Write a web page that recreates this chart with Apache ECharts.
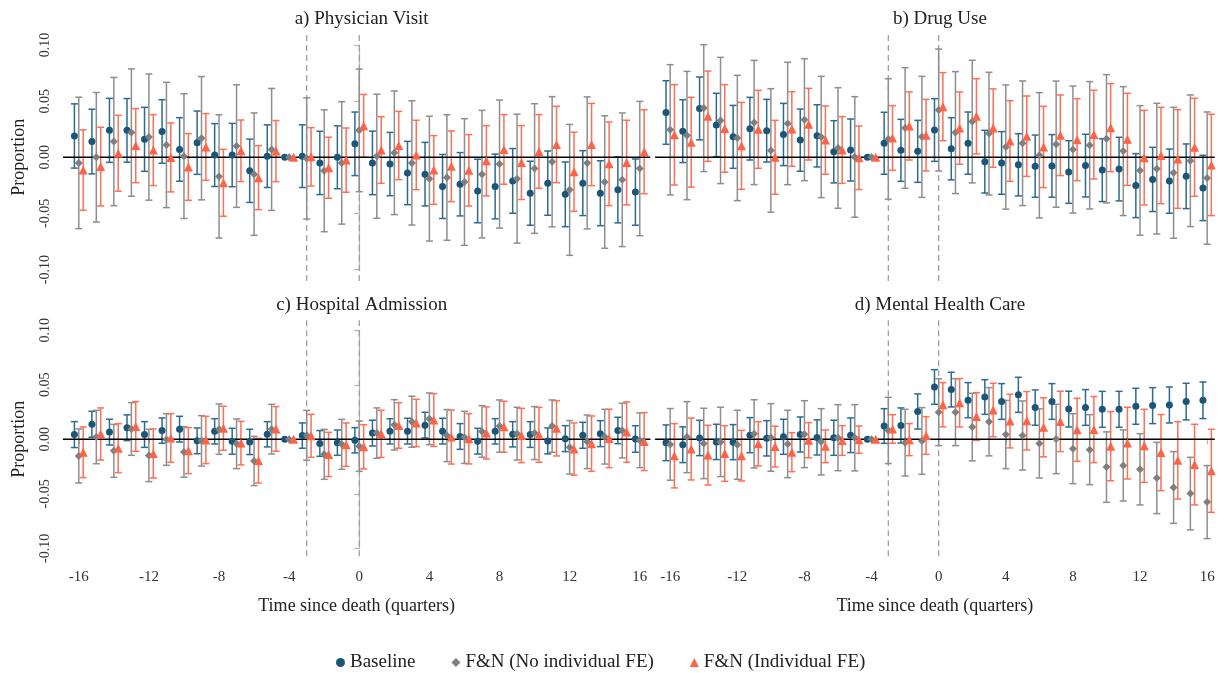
<!DOCTYPE html>
<html>
<head>
<meta charset="utf-8">
<script src="https://cdn.jsdelivr.net/npm/echarts@6/dist/echarts.min.js"></script>
<style>
  html, body { margin: 0; padding: 0; background: #fff; }
  #chart { width: 1225px; height: 673px; }
</style>
</head>
<body>
<div id="chart"></div>
<script>
// event-study estimates, quarters -16..16 (reference quarter -4 fixed at 0)
const quarters = [-16, -15, -14, -13, -12, -11, -10, -9, -8, -7, -6, -5, -4, -3, -2, -1, 0,
  1, 2, 3, 4, 5, 6, 7, 8, 9, 10, 11, 12, 13, 14, 15, 16];
const xTicks = [-16, -12, -8, -4, 0, 4, 8, 12, 16];
const eventLines = [-3, 0];
const panelTitles = ['a) Physician Visit', 'b) Drug Use', 'c) Hospital Admission', 'd) Mental Health Care'];
const seriesNames = ['Baseline', 'F&N (No individual FE)', 'F&N (Individual FE)'];

// a) physician visit
const visitBase = [0.019, 0.014, 0.024, 0.024, 0.016, 0.023, 0.007, 0.013, 0.002, 0.002, -0.012, 0.001, 0,
  0.001, -0.005, 0.000, 0.012, -0.005, -0.006, -0.014, -0.015, -0.026, -0.024, -0.030, -0.026, -0.021,
  -0.032, -0.023, -0.033, -0.023, -0.032, -0.029, -0.031];
const visitBaseCI = [0.0286, 0.0288, 0.0285, 0.0283, 0.0285, 0.0283, 0.0283, 0.0282, 0.028, 0.0282, 0.0282, 0.0279, 0,
  0.0279, 0.0282, 0.028, 0.0283, 0.0283, 0.0282, 0.0282, 0.0283, 0.0285, 0.0282, 0.0283, 0.0288, 0.0288,
  0.0285, 0.0286, 0.0288, 0.0289, 0.0289, 0.0294, 0.0295];
const visitNoFE = [-0.005, 0.000, 0.014, 0.022, 0.018, 0.011, 0.001, 0.017, -0.017, 0.010, -0.015, 0.007, 0,
  -0.001, -0.012, -0.005, 0.024, 0.001, 0.004, -0.005, -0.019, -0.018, -0.022, -0.015, -0.006, -0.019,
  -0.010, -0.004, -0.029, -0.005, -0.022, -0.020, -0.010];
const visitNoFECI = [0.0585, 0.0577, 0.0571, 0.0567, 0.0562, 0.0558, 0.0555, 0.0549, 0.0549, 0.0546, 0.0545, 0.0543, 0,
  0.054, 0.0543, 0.0545, 0.0546, 0.0552, 0.055, 0.0553, 0.0556, 0.0559, 0.0564, 0.0568, 0.057, 0.0574,
  0.0577, 0.058, 0.0583, 0.0588, 0.059, 0.0595, 0.0598];
const visitFE = [-0.0114, -0.0083, 0.0036, 0.0104, 0.0064, -0.0001, -0.0086, 0.0092, -0.0227, 0.0058, -0.0181, 0.0055, 0,
  0.0004, -0.0093, -0.0025, 0.028, 0.0065, 0.0105, 0.0021, -0.0113, -0.008, -0.0116, -0.0031, 0.007, -0.0047,
  0.0052, 0.0114, -0.0129, 0.0114, -0.0058, -0.0047, 0.005];
const visitFECI = [0.0358, 0.035, 0.0338, 0.033, 0.0316, 0.0307, 0.0297, 0.0297, 0.0298, 0.0274, 0.0285, 0.0272, 0,
  0.026, 0.0272, 0.0286, 0.028, 0.0297, 0.0304, 0.0309, 0.0306, 0.0315, 0.0318, 0.0313, 0.031, 0.0329,
  0.0328, 0.034, 0.0352, 0.0366, 0.0372, 0.0377, 0.0374];

// b) drug use
const drugBase = [0.0399, 0.0233, 0.0435, 0.0288, 0.0182, 0.0255, 0.0237, 0.0203, 0.0153, 0.0191, 0.0049, 0.0065, 0,
  0.0125, 0.0062, 0.0053, 0.0243, 0.0076, 0.0126, -0.0039, -0.005, -0.0067, -0.0079, -0.0077, -0.0131, -0.0074,
  -0.0114, -0.0105, -0.0252, -0.0197, -0.0212, -0.0169, -0.0273];
const drugBaseCI = [0.0283, 0.028, 0.028, 0.0282, 0.028, 0.0279, 0.0279, 0.0277, 0.0277, 0.0277, 0.0277, 0.0276, 0,
  0.0276, 0.0276, 0.0276, 0.0279, 0.0277, 0.0277, 0.0279, 0.0279, 0.0277, 0.0277, 0.0279, 0.0279, 0.0279,
  0.028, 0.0283, 0.0285, 0.0286, 0.0286, 0.0288, 0.0291];
const drugNoFE = [0.0245, 0.0194, 0.0438, 0.0328, 0.0172, 0.031, 0.0061, 0.0301, 0.0335, 0.0181, 0.0083, 0.0003, 0,
  0.0163, 0.0261, 0.0182, 0.0421, 0.022, 0.0318, 0.0211, 0.0091, 0.0125, 0.0018, 0.0117, 0.0069, 0.0107,
  0.0165, 0.0055, -0.0117, -0.0101, -0.0138, -0.0031, -0.0185];
const drugNoFECI = [0.058, 0.0571, 0.0565, 0.0562, 0.0558, 0.0553, 0.055, 0.0545, 0.0543, 0.054, 0.0537, 0.0537, 0,
  0.0537, 0.0537, 0.0539, 0.0543, 0.0543, 0.0546, 0.0546, 0.0553, 0.0555, 0.0558, 0.0562, 0.0565, 0.0567,
  0.0571, 0.0574, 0.0577, 0.0582, 0.0583, 0.0586, 0.0589];
const drugFE = [0.02, 0.0134, 0.0366, 0.0257, 0.0102, 0.0249, 0.0, 0.0252, 0.0295, 0.0153, 0.0065, -0.0004, 0,
  0.0172, 0.0279, 0.0197, 0.0451, 0.026, 0.0365, 0.026, 0.0145, 0.0188, 0.0092, 0.0196, 0.0157, 0.0202,
  0.0264, 0.016, -0.0003, 0.0016, -0.0015, 0.0089, -0.0068];
const drugFECI = [0.0447, 0.04, 0.0402, 0.039, 0.0387, 0.0347, 0.0329, 0.0332, 0.0319, 0.0304, 0.0297, 0.0283, 0,
  0.0288, 0.0303, 0.0319, 0.0303, 0.0322, 0.0335, 0.0349, 0.0359, 0.0358, 0.0362, 0.0359, 0.0365, 0.0395,
  0.0392, 0.041, 0.0421, 0.0429, 0.0439, 0.0436, 0.0451];

// c) hospital admission
const hospBase = [0.0043, 0.0138, 0.0066, 0.0106, 0.0044, 0.008, 0.0093, -0.0014, 0.0073, -0.0018, -0.0024, 0.0046, 0,
  0.0034, -0.0038, -0.0031, -0.0009, 0.0057, 0.0073, 0.0075, 0.013, 0.0075, 0.0026, -0.0017, 0.0073, 0.0046,
  0.0044, -0.0015, 0.0006, 0.0037, 0.0052, 0.0081, 0.0003];
const hospBaseCI = [0.0119, 0.0119, 0.0118, 0.0118, 0.0118, 0.0116, 0.0118, 0.0118, 0.0116, 0.0119, 0.0116, 0.0116, 0,
  0.0116, 0.0118, 0.0116, 0.0116, 0.0118, 0.0116, 0.0118, 0.0118, 0.0118, 0.0118, 0.0118, 0.0116, 0.0116,
  0.0118, 0.0119, 0.0119, 0.0119, 0.0119, 0.0121, 0.0122];
const hospNoFE = [-0.0153, 0.0021, -0.0106, 0.0095, -0.0148, -0.0002, -0.0116, -0.0014, 0.0093, -0.0041, -0.0199, 0.0093, 0,
  0.0037, -0.0138, -0.0046, -0.0063, 0.0057, 0.0133, 0.0161, 0.0188, 0.0034, 0.0018, 0.0072, 0.0121, 0.0052,
  0.0057, 0.0121, -0.0073, -0.0023, 0.0024, 0.008, -0.0009];
const hospNoFECI = [0.0248, 0.0245, 0.0243, 0.0242, 0.024, 0.0237, 0.0232, 0.0231, 0.0231, 0.0228, 0.0226, 0.0228, 0,
  0.0229, 0.0229, 0.0229, 0.0231, 0.0231, 0.0231, 0.0234, 0.0237, 0.0239, 0.0239, 0.0237, 0.024, 0.0242,
  0.0243, 0.024, 0.0245, 0.0246, 0.0251, 0.0251, 0.0251];
const hospFE = [-0.0119, 0.0049, -0.0081, 0.0118, -0.013, 0.0012, -0.0104, -0.0006, 0.0101, -0.0035, -0.0196, 0.0095, 0,
  0.0032, -0.0139, -0.0049, -0.0069, 0.005, 0.0127, 0.015, 0.0177, 0.0021, 0.0005, 0.0058, 0.0115, 0.0035,
  0.0041, 0.0101, -0.009, -0.004, 0.0008, 0.0066, -0.0021];
const hospFECI = [0.0232, 0.0239, 0.0225, 0.0228, 0.0225, 0.0223, 0.0211, 0.0217, 0.0202, 0.02, 0.0205, 0.0205, 0,
  0.0197, 0.0203, 0.0199, 0.0203, 0.0216, 0.0209, 0.0217, 0.0242, 0.0248, 0.0231, 0.0239, 0.0234, 0.0249,
  0.0252, 0.0254, 0.024, 0.0254, 0.0268, 0.0277, 0.0266];

// d) mental health care
const mentalBase = [-0.0032, -0.005, 0.0012, -0.0024, -0.0026, 0.0038, 0.0009, 0.0023, 0.0044, 0.0017, 0.0014, 0.0037, 0,
  0.0122, 0.0127, 0.0255, 0.048, 0.0456, 0.0359, 0.0388, 0.0347, 0.0408, 0.0291, 0.0347, 0.0277, 0.0292,
  0.0275, 0.0275, 0.0303, 0.0309, 0.0315, 0.0346, 0.0358];
const mentalBaseCI = [0.0164, 0.0164, 0.0162, 0.0162, 0.0161, 0.0161, 0.0162, 0.0161, 0.0161, 0.0161, 0.0161, 0.0159, 0,
  0.0159, 0.0161, 0.0161, 0.0159, 0.0159, 0.0161, 0.0159, 0.0164, 0.0161, 0.0162, 0.0164, 0.0164, 0.0164,
  0.0165, 0.0165, 0.0165, 0.0165, 0.0165, 0.0168, 0.0168];
const mentalNoFE = [-0.0047, 0.002, -0.0038, -0.0024, -0.005, 0.005, 0.0017, -0.0043, 0.0047, -0.0023, 0.0015, 0.0014, 0,
  0.0081, -0.0031, -0.0015, 0.0249, 0.0249, 0.0112, 0.0161, 0.0044, 0.0035, -0.0038, 0.0003, -0.0086, -0.0095,
  -0.0255, -0.024, -0.0275, -0.0355, -0.0442, -0.0498, -0.0576];
const mentalNoFECI = [0.0329, 0.0326, 0.0323, 0.0318, 0.0317, 0.0313, 0.031, 0.0309, 0.0307, 0.0304, 0.0303, 0.0304, 0,
  0.0304, 0.0306, 0.0306, 0.0307, 0.0307, 0.031, 0.0313, 0.0313, 0.0317, 0.0317, 0.0318, 0.0321, 0.0321,
  0.0323, 0.0326, 0.0327, 0.0327, 0.0329, 0.0333, 0.0335];
const mentalFE = [-0.0151, -0.0089, -0.0145, -0.013, -0.015, -0.0041, -0.0067, -0.0118, -0.0008, -0.0064, -0.0011, -0.0003, 0,
  0.0095, -0.0003, 0.0035, 0.0317, 0.0335, 0.0209, 0.0269, 0.0167, 0.017, 0.011, 0.0164, 0.0087, 0.0089,
  -0.0063, -0.0035, -0.006, -0.0122, -0.0193, -0.0232, -0.0289];
const mentalFECI = [0.0295, 0.0284, 0.0274, 0.0255, 0.0232, 0.0203, 0.0187, 0.0179, 0.0161, 0.015, 0.0136, 0.0125, 0,
  0.0131, 0.0147, 0.0173, 0.0203, 0.0222, 0.0219, 0.0245, 0.0246, 0.0268, 0.0271, 0.0277, 0.0289, 0.0303,
  0.0317, 0.0329, 0.0335, 0.0349, 0.0355, 0.037, 0.0381];

const panels = [
  { est: [visitBase, visitNoFE, visitFE], ci: [visitBaseCI, visitNoFECI, visitFECI] },
  { est: [drugBase, drugNoFE, drugFE], ci: [drugBaseCI, drugNoFECI, drugFECI] },
  { est: [hospBase, hospNoFE, hospFE], ci: [hospBaseCI, hospNoFECI, hospFECI] },
  { est: [mentalBase, mentalNoFE, mentalFE], ci: [mentalBaseCI, mentalNoFECI, mentalFECI] }
];

// layout
const layout = [
  { grid: { left: 63, top: 45, width: 587.3, height: 224.6 }, xMin: -16.9, xMax: 16.6, bottomAxis: false, leftAxis: true },
  { grid: { left: 655.1, top: 45, width: 559.6, height: 224.6 }, xMin: -16.9, xMax: 16.45, bottomAxis: false, leftAxis: false },
  { grid: { left: 63, top: 330.3, width: 587.3, height: 218 }, xMin: -16.9, xMax: 16.6, bottomAxis: true, leftAxis: true },
  { grid: { left: 655.1, top: 330.3, width: 559.6, height: 218 }, xMin: -16.9, xMax: 16.45, bottomAxis: true, leftAxis: false }
];
const offsets = [-0.25, 0, 0.25];
const markerColors = ['#1b5679', '#7f7f7f', '#ff6347'];
const barColors = ['#2d6a90', '#8e8e8e', '#ff6e55'];
const symbols = ['circle', 'diamond', 'triangle'];
const symbolSizes = [7, 8, 9];
const FONT = 'Liberation Serif';
const axisGrey = '#b4b4b4';

function errorBar(color) {
  return function (params, api) {
    const x = api.value(0), lo = api.value(1), hi = api.value(2);
    if (lo === hi) return null;
    const top = api.coord([x, hi]);
    const bot = api.coord([x, lo]);
    const cap = 3.5;
    const style = { stroke: color, lineWidth: 1.5 };
    return {
      type: 'group',
      children: [
        { type: 'line', shape: { x1: top[0], y1: top[1], x2: bot[0], y2: bot[1] }, style },
        { type: 'line', shape: { x1: top[0] - cap, y1: top[1], x2: top[0] + cap, y2: top[1] }, style },
        { type: 'line', shape: { x1: bot[0] - cap, y1: bot[1], x2: bot[0] + cap, y2: bot[1] }, style }
      ]
    };
  };
}

function eventLine(params, api) {
  const cs = params.coordSys;
  const x = api.coord([api.value(0), 0])[0];
  return {
    type: 'line',
    shape: { x1: x, y1: cs.y - 10, x2: x, y2: cs.y + cs.height + 12 },
    style: { stroke: '#a0a0a0', lineWidth: 1.3, lineDash: [6, 4] }
  };
}

function zeroLine(params, api) {
  const cs = params.coordSys;
  const y = api.coord([0, 0])[1];
  return {
    type: 'line',
    shape: { x1: cs.x, y1: y, x2: cs.x + cs.width, y2: y },
    style: { stroke: '#000', lineWidth: 1.5 }
  };
}

const grids = layout.map(l => l.grid);
const xAxes = layout.map((l, i) => ({
  type: 'value', gridIndex: i, min: l.xMin, max: l.xMax,
  show: l.bottomAxis, offset: 15,
  name: 'Time since death (quarters)', nameLocation: 'middle', nameGap: 34,
  nameTextStyle: { fontFamily: FONT, fontSize: 18, color: '#222' },
  axisLine: { show: true, lineStyle: { color: axisGrey, width: 1.2 } },
  axisTick: { show: true, length: 5, customValues: xTicks, lineStyle: { color: axisGrey, width: 1.2 } },
  axisLabel: { customValues: xTicks, fontFamily: FONT, fontSize: 15, color: '#333', margin: 6, formatter: v => String(v) },
  splitLine: { show: false }
}));
const yAxes = layout.map((l, i) => ({
  type: 'value', gridIndex: i, min: -0.1, max: 0.1, interval: 0.05,
  show: l.leftAxis,
  name: 'Proportion', nameLocation: 'middle', nameGap: 35, nameRotate: 90,
  nameTextStyle: { fontFamily: FONT, fontSize: 18, color: '#222' },
  axisLine: { show: true, lineStyle: { color: axisGrey, width: 1.2 } },
  axisTick: { show: true, length: 5, lineStyle: { color: axisGrey, width: 1.2 } },
  axisLabel: { rotate: 90, fontFamily: FONT, fontSize: 14, color: '#333', margin: 11, formatter: v => v.toFixed(2) },
  splitLine: { show: false }
}));

const series = [];
panels.forEach((p, i) => {
  series.push({
    type: 'custom', xAxisIndex: i, yAxisIndex: i, silent: true, z: 1,
    renderItem: eventLine, data: eventLines.map(v => [v]), clip: false
  });
  p.est.forEach((est, k) => {
    series.push({
      type: 'custom', xAxisIndex: i, yAxisIndex: i, silent: true, z: 2, clip: false,
      renderItem: errorBar(barColors[k]),
      encode: { x: 0, y: [1, 2] },
      data: quarters.map((q, j) => [q + offsets[k], est[j] - p.ci[k][j], est[j] + p.ci[k][j]])
    });
  });
  series.push({
    type: 'custom', xAxisIndex: i, yAxisIndex: i, silent: true, z: 3,
    renderItem: zeroLine, data: [[0]]
  });
  p.est.forEach((est, k) => {
    series.push({
      type: 'scatter', name: seriesNames[k], xAxisIndex: i, yAxisIndex: i, z: 4 + k,
      symbol: symbols[k], symbolSize: symbolSizes[k],
      itemStyle: { color: markerColors[k], opacity: 1 },
      data: quarters.map((q, j) => [q + offsets[k], est[j]])
    });
  });
});

const titles = panelTitles.map((t, i) => ({
  text: t,
  left: layout[i].grid.left + layout[i].grid.width / 2,
  top: i < 2 ? 5 : 291,
  textAlign: 'center',
  textStyle: { fontFamily: FONT, fontSize: 19, fontWeight: 'normal', color: '#222' }
}));

const chart = echarts.init(document.getElementById('chart'), null, { renderer: 'canvas' });
chart.setOption({
  animation: false,
  backgroundColor: '#fff',
  title: titles,
  grid: grids,
  xAxis: xAxes,
  yAxis: yAxes,
  legend: {
    data: seriesNames.map((n, k) => ({ name: n, icon: symbols[k] })),
    left: 331, top: 648,
    itemWidth: 9, itemHeight: 9, itemGap: 36,
    textStyle: { fontFamily: FONT, fontSize: 19, color: '#222' }
  },
  series
});
</script>
</body>
</html>
